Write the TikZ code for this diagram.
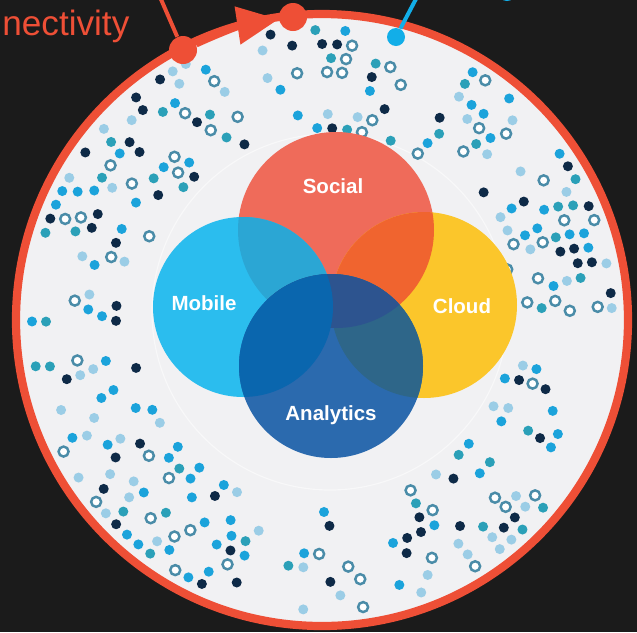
\documentclass[tikz,border=0pt]{standalone}
\usepackage{fontspec}
\setmainfont{Liberation Sans}
\usetikzlibrary{arrows.meta}
\definecolor{bgdark}{HTML}{1B1B1B}
\definecolor{ringred}{HTML}{EE4F36}
\definecolor{discgray}{HTML}{F1F1F3}
\definecolor{linkblue}{HTML}{12AEE8}
\definecolor{dotnavy}{HTML}{0E2A47}
\definecolor{dotcyan}{HTML}{1BA3DB}
\definecolor{dotlight}{HTML}{9BCDE6}
\definecolor{dotteal}{HTML}{2BA0B8}
\definecolor{dotring}{HTML}{4A8CA8}
\definecolor{socialc}{HTML}{EF6B5A}
\definecolor{mobilec}{HTML}{2BBDEE}
\definecolor{cloudc}{HTML}{FBC62B}
\definecolor{analyticsc}{HTML}{2B6AAE}
\definecolor{socmob}{HTML}{2BA6D4}
\definecolor{soccloud}{HTML}{F0642F}
\definecolor{anamob}{HTML}{0A66AE}
\definecolor{anasoc}{HTML}{2D548F}
\definecolor{anacloud}{HTML}{2E6689}
\tikzset{every picture/.style={line width=0.8pt}}

\begin{document}
\begin{tikzpicture}[x=0.03cm, y=-0.03cm,
    navy/.style={fill=dotnavy},
    cyan/.style={fill=dotcyan},
    light/.style={fill=dotlight},
    teal/.style={fill=dotteal},
    ring/.style={draw=dotring, fill=white, line width=2.1pt},
    venntext/.style={text=white, font=\bfseries\fontsize{17.5}{20}\selectfont, anchor=base},
    reddot/.style={circle, fill=ringred, minimum size=0.84cm, inner sep=0pt},
    bluedot/.style={circle, fill=linkblue, minimum size=0.54cm, inner sep=0pt}]
    % Frame
    \useasboundingbox (0,0) rectangle (637,632);
    \clip (0,0) rectangle (637,632);
    \fill[bgdark] (0,0) rectangle (637,632);

    % Outer disc
    \coordinate (ctr) at (322,320);
    \fill[discgray] (ctr) circle (306);
    \draw[white, line width=1pt, opacity=0.5] (330,312) circle (178);

    % Rings of dots, with a few empty spokes between the clusters
    \pgfmathsetseed{42}
    \begin{scope}[shift={(322,320)}]
    \foreach \r [count=\i] in {192,206,220,234,248,262,276,290} {
        \pgfmathsetmacro{\da}{860/\r}
        \pgfmathsetmacro{\aa}{\i*4.3}
        \pgfmathsetmacro{\ab}{\aa+\da}
        \foreach \a in {\aa,\ab,...,359} {
            \pgfmathrandominteger{\k}{0}{19}
            \pgfmathtruncatemacro{\gap}{(abs(\a-295)<4)||(abs(\a-253)<4)||(abs(\a-102)<4)||(abs(\a-78)<3)||(abs(\a-35)<4)||(abs(\a-190)<3)}
            \ifnum\gap=0
            \ifnum\k>10
                \ifcase\numexpr\k-11\relax \def\st{navy}\or\def\st{navy}\or\def\st{cyan}\or\def\st{cyan}\or\def\st{light}\or\def\st{light}\or\def\st{teal}\or\def\st{ring}\or\def\st{ring}\fi
                \path[\st] (\a:\r) circle (5);
            \fi
            \fi
        }
    }
    \end{scope}
    \draw[ringred, line width=7pt] (ctr) circle (306);

    % Venn circles
    \coordinate (soc) at (336,230);
    \coordinate (mob) at (243,307);
    \coordinate (cld) at (424,305);
    \coordinate (ana) at (331,366);
    \fill[socialc] (soc) circle (98);
    \fill[mobilec] (mob) circle (90);
    \fill[cloudc] (cld) circle (93);
    \begin{scope}
        \clip (soc) circle (98);
        \fill[socmob] (mob) circle (90);
        \fill[soccloud] (cld) circle (93);
    \end{scope}
    \fill[analyticsc] (ana) circle (92);
    \begin{scope}
        \clip (ana) circle (92);
        \fill[anacloud] (cld) circle (93);
        \fill[anasoc] (soc) circle (98);
        \fill[anamob] (mob) circle (90);
    \end{scope}
    \node[venntext] (social) at (333,193) {Social};
    \node[venntext] (mobile) at (204,310) {Mobile};
    \node[venntext] (cloud) at (462,313) {Cloud};
    \node[venntext] (analytics) at (331,420) {Analytics};

    % Callouts
    \node[anchor=base west, text=ringred, font=\fontsize{30}{34}\selectfont] (conn) at (-2,35) {nectivity};
    \node[reddot] (c1) at (183,50) {};
    \node[reddot] (c2) at (293,17) {};
    \coordinate (redend) at (160,-3);
    \draw[ringred, line width=3.4pt] (redend) -- (c1);
    \draw[ringred, line width=6pt, -{Triangle[length=1.25cm, width=1.1cm]}] (c1) to[bend left=8] (c2);
    \node[bluedot] (b1) at (396,37) {};
    \node[bluedot] (b2) at (507,-8) {};
    \coordinate (blueend) at (417,-3);
    \draw[linkblue, line width=3.4pt] (blueend) -- (b1);
\end{tikzpicture}
\end{document}
